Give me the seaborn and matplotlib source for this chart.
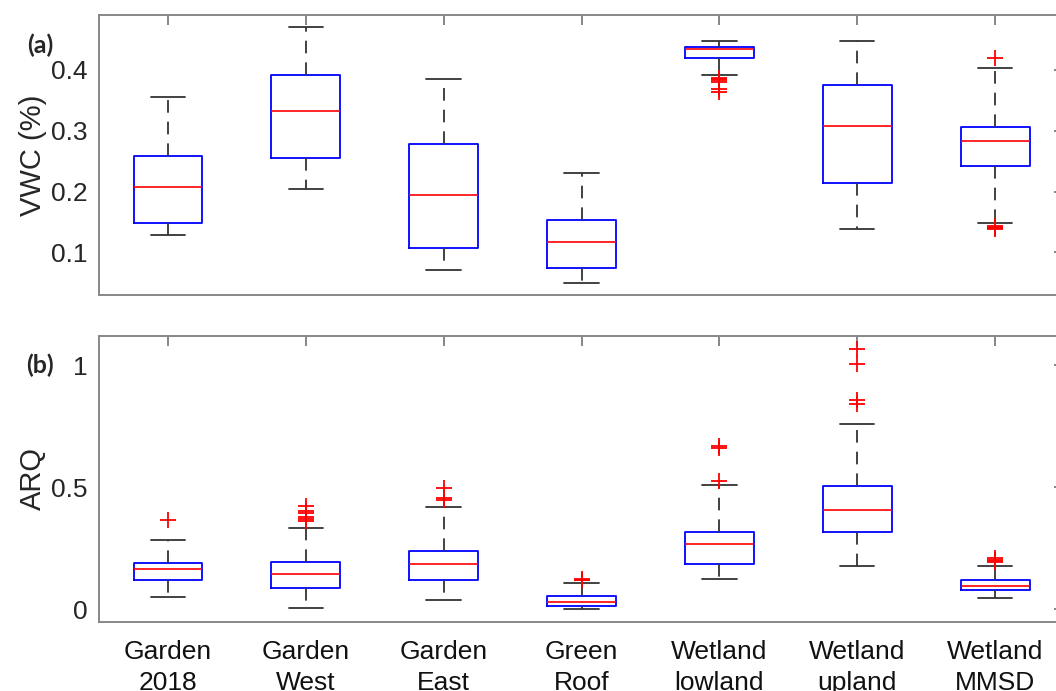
import matplotlib
matplotlib.use("Agg")
import matplotlib.pyplot as plt
import seaborn as sns
import pandas as pd

# site names (two-line tick labels)
sites = ["Garden\n2018", "Garden\nWest", "Garden\nEast", "Green\nRoof",
         "Wetland\nlowland", "Wetland\nupland", "Wetland\nMMSD"]

# (a) VWC box statistics
vwc_whisker_low = [0.128, 0.204, 0.071, 0.050, 0.391, 0.138, 0.148]
vwc_q1 = [0.148, 0.255, 0.108, 0.075, 0.419, 0.215, 0.242]
vwc_median = [0.208, 0.333, 0.194, 0.118, 0.434, 0.308, 0.283]
vwc_q3 = [0.259, 0.391, 0.278, 0.154, 0.438, 0.376, 0.307]
vwc_whisker_high = [0.355, 0.470, 0.385, 0.231, 0.447, 0.448, 0.404]
vwc_outliers = [[], [], [], [],
                [0.387, 0.385, 0.383, 0.381, 0.368, 0.364],
                [],
                [0.143, 0.142, 0.141, 0.140, 0.139, 0.419]]

# (b) ARQ box statistics
arq_whisker_low = [0.048, 0.004, 0.036, 0.000, 0.123, 0.175, 0.044]
arq_q1 = [0.119, 0.087, 0.118, 0.0135, 0.183, 0.314, 0.079]
arq_median = [0.163, 0.142, 0.184, 0.0275, 0.265, 0.407, 0.094]
arq_q3 = [0.189, 0.195, 0.239, 0.052, 0.318, 0.505, 0.120]
arq_whisker_high = [0.283, 0.332, 0.417, 0.105, 0.510, 0.757, 0.175]
arq_outliers = [[0.365],
                [0.423, 0.403, 0.392, 0.378, 0.368, 0.360],
                [0.495, 0.457, 0.447],
                [0.118, 0.120, 0.122],
                [0.525, 0.662, 0.668],
                [0.843, 0.857, 1.003, 1.068],
                [0.194, 0.198, 0.202, 0.208]]


def build_samples(lo, q1, med, q3, hi, outl, m=50):
    """Expand box stats into a sample whose percentiles reproduce them"""
    rows = []
    for i, site in enumerate(sites):
        vals = [lo[i]] + [q1[i]] * m + [med[i]] * m + [q3[i]] * m + [hi[i]] + outl[i]
        rows += [(site, v) for v in vals]
    return pd.DataFrame(rows, columns=["site", "value"])


df_vwc = build_samples(vwc_whisker_low, vwc_q1, vwc_median, vwc_q3,
                       vwc_whisker_high, vwc_outliers)
df_arq = build_samples(arq_whisker_low, arq_q1, arq_median, arq_q3,
                       arq_whisker_high, arq_outliers)

sns.set_style("white")
plt.rcParams["font.family"] = ["Liberation Sans", "DejaVu Sans"]

fig = plt.figure(figsize=(10.56, 6.91), dpi=100)
ax1 = fig.add_axes([0.0938, 0.573, 0.9138, 0.405])
ax2 = fig.add_axes([0.0938, 0.0999, 0.9138, 0.4139])

box_kws = dict(
    x="site", y="value", order=sites, width=0.5, fill=False, color="blue",
    whis=1.5, linewidth=1.2,
    boxprops={"color": "#0000ff", "linewidth": 1.3},
    medianprops={"color": "#ff0000", "linewidth": 1.2},
    whiskerprops={"color": "#333333", "linestyle": (0, (7, 5)), "linewidth": 1.3},
    capprops={"color": "#333333", "linewidth": 1.3},
    flierprops={"marker": "+", "markeredgecolor": "#ff0000",
                "markerfacecolor": "none", "markersize": 12,
                "markeredgewidth": 1.3},
)

sns.boxplot(data=df_vwc, ax=ax1, **box_kws)
sns.boxplot(data=df_arq, ax=ax2, **box_kws)

for ax in (ax1, ax2):
    ax.set_xlim(-0.5, 6.5)
    ax.set_xlabel("")
    for sp in ax.spines.values():
        sp.set_visible(True)
        sp.set_color("#888888")
        sp.set_linewidth(1.4)
    ax.tick_params(direction="in", length=7, width=1.1, color="#666666",
                   top=True, right=True, labelsize=19, labelcolor="#262626")
    ax.tick_params(axis="y", pad=8)

ax1.set_ylim(0.03, 0.49)
ax1.set_yticks([0.1, 0.2, 0.3, 0.4])
ax1.set_yticklabels(["0.1", "0.2", "0.3", "0.4"])
ax1.tick_params(axis="x", labelbottom=False)
ax1.set_ylabel("VWC (%)", fontsize=21, color="#262626")
ax1.yaxis.set_label_coords(-0.054, 0.5)

ax2.set_ylim(-0.053, 1.12)
ax2.set_yticks([0, 0.5, 1])
ax2.set_yticklabels(["0", "0.5", "1"])
ax2.tick_params(axis="x", pad=13, labelcolor="#111111")
for lab in ax2.get_xticklabels():
    lab.set_linespacing(1.35)
ax2.set_ylabel("ARQ", fontsize=21, color="#262626")
ax2.yaxis.set_label_coords(-0.054, 0.5)

fig.text(0.038, 0.935, "(a)", fontsize=18, fontweight="bold",
         family=["Lato", "DejaVu Sans"], ha="center", va="center")
fig.text(0.038, 0.472, "(b)", fontsize=18, fontweight="bold",
         family=["Lato", "DejaVu Sans"], ha="center", va="center")

fig.savefig("out.png", dpi=100)
